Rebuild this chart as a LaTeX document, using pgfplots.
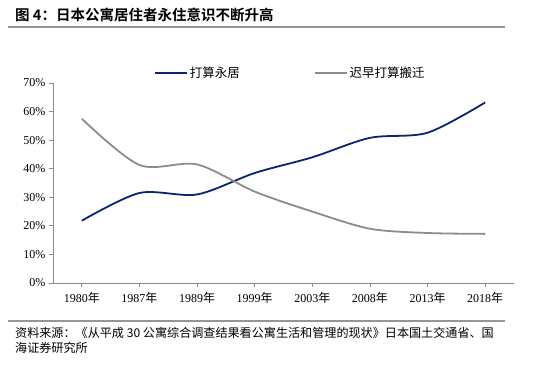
\documentclass[border=0pt]{standalone}
\usepackage{pgfplots}
\pgfplotsset{compat=1.18}
\usepackage{fontspec}
\setmainfont{Liberation Serif}
\newfontfamily\cjk{Noto Sans CJK SC}
\newfontfamily\cjkb{Noto Sans CJK SC Bold}
\definecolor{navy}{RGB}{10,36,110}
\definecolor{lgray}{RGB}{140,140,140}
\definecolor{rulegray}{RGB}{150,150,150}
\begin{document}
\begin{tikzpicture}
\path[use as bounding box] (0pt,0pt) rectangle (550pt,-372pt);
\node[anchor=west,inner sep=0] at (15pt,-15pt) {\fontsize{14.5}{15}\cjkb 图 4：日本公寓居住者永住意识不断升高};
\draw[rulegray,line width=1.2pt] (8pt,-27pt) -- (505pt,-27pt);
\draw[rulegray,line width=1.2pt] (8pt,-321pt) -- (505pt,-321pt);
\node[anchor=west,inner sep=0] at (15pt,-333pt) {\fontsize{12.1}{14}\cjk 资料来源：《从平成 30 公寓综合调查结果看公寓生活和管理的现状》日本国土交通省、国};
\node[anchor=west,inner sep=0] at (15pt,-348pt) {\fontsize{12.1}{14}\cjk 海证券研究所};
\begin{axis}[
  at={(53pt,-283pt)}, anchor=south west,
  scale only axis, width=461pt, height=200pt,
  xmin=-0.5, xmax=7.5, ymin=0, ymax=70,
  axis x line*=bottom, axis y line*=left,
  axis line style={lgray, line width=0.8pt},
  every tick/.style={lgray, line width=0.8pt},
  tick align=outside, major tick length=4pt,
  xtick={0,...,7},
  xticklabels={1980{\cjk 年},1987{\cjk 年},1989{\cjk 年},1999{\cjk 年},2003{\cjk 年},2008{\cjk 年},2013{\cjk 年},2018{\cjk 年}},
  ytick={0,10,...,70},
  yticklabels={0\%,10\%,20\%,30\%,40\%,50\%,60\%,70\%},
  /pgf/number format/assume math mode=true,
  tick label style={font=\fontsize{12}{13}\selectfont},
  xticklabel style={yshift=-2pt},
  legend columns=2,
  legend style={draw=none, fill=none, at={(axis description cs:0.515,1.05)}, anchor=center,
    font=\fontsize{12.5}{13}\cjk,
    /tikz/every even column/.append style={column sep=72pt}},
  legend image code/.code={\draw[#1] (0,0) -- (32pt,0);},
]
\addplot[navy, line width=1.8pt, smooth] coordinates {
(0,21.8) (1,31.5) (2,31.0) (3,38.5) (4,44.0) (5,50.8) (6,52.6) (7,63.2)};
\addlegendentry{打算永居}
\addplot[lgray, line width=1.8pt, smooth] coordinates {
(0,57.5) (1,41.3) (2,41.5) (3,32.0) (4,25.0) (5,19.0) (6,17.5) (7,17.2)};
\addlegendentry{迟早打算搬迁}
\end{axis}
\end{tikzpicture}
\end{document}
